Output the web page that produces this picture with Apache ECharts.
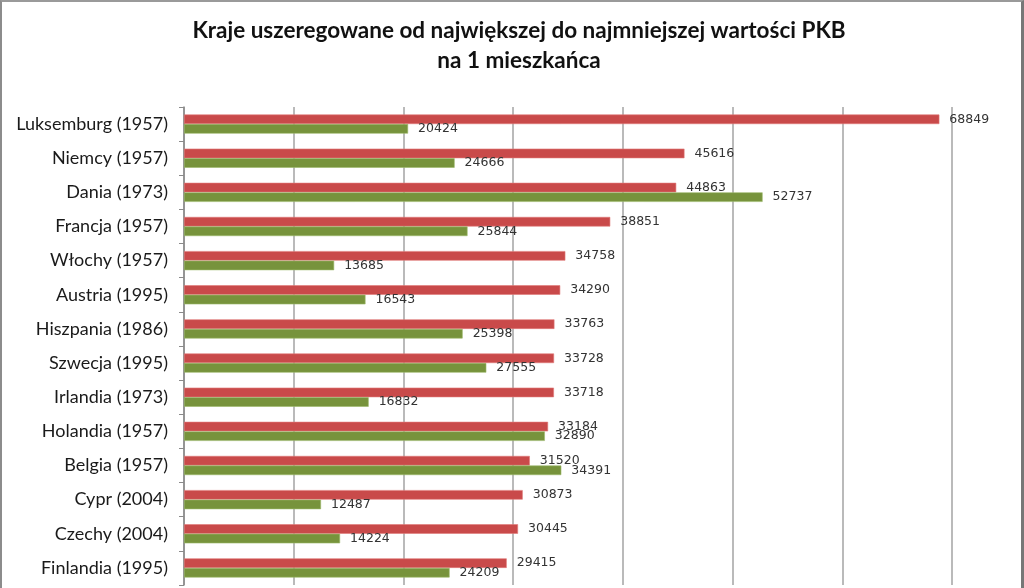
<!DOCTYPE html>
<html>
<head>
<meta charset="utf-8">
<script src="https://cdn.jsdelivr.net/npm/echarts@6/dist/echarts.min.js"></script>
<style>
html,body{margin:0;padding:0;background:#fff;}
#frame{position:absolute;left:0;top:0;width:1024px;height:588px;box-sizing:border-box;border-left:2px solid #8c8c8c;border-top:2px solid #9a9a9a;border-right:3px solid #777;background:#fff;}
#chart{position:absolute;left:0;top:0;width:1024px;height:588px;}
</style>
</head>
<body>
<div id="frame"></div>
<div id="chart"></div>
<script>
const categories = ['Luksemburg (1957)','Niemcy (1957)','Dania (1973)','Francja (1957)','Włochy (1957)','Austria (1995)','Hiszpania (1986)','Szwecja (1995)','Irlandia (1973)','Holandia (1957)','Belgia (1957)','Cypr (2004)','Czechy (2004)','Finlandia (1995)'];
const redValues = [68849,45616,44863,38851,34758,34290,33763,33728,33718,33184,31520,30873,30445,29415];
const greenValues = [20424,24666,52737,25844,13685,16543,25398,27555,16832,32890,34391,12487,14224,24209];
const titleText = 'Kraje uszeregowane od największej do najmniejszej wartości PKB\nna 1 mieszkańca';

const chart = echarts.init(document.getElementById('chart'), null, {renderer:'canvas'});
const labelStyle = {show:true, position:'right', distance:10, color:'#333', fontFamily:'DejaVu Sans', fontSize:12.5};
chart.setOption({
  backgroundColor:'transparent',
  animation:false,
  title:{
    text:titleText, left:514, textAlign:'center', top:11,
    textStyle:{fontFamily:'Lato', fontWeight:'bold', fontSize:22.5, color:'#111', lineHeight:30}
  },
  grid:{left:184, right:72, top:107, bottom:3, containLabel:false},
  xAxis:{
    type:'value', min:0, max:70000, interval:10000,
    axisLabel:{show:false}, axisTick:{show:false}, axisLine:{show:false},
    splitLine:{show:true, lineStyle:{color:'#a3a3a3', width:1.5}}
  },
  yAxis:{
    type:'category', data:categories, inverse:true,
    axisLine:{show:true, lineStyle:{color:'#8a8a8a', width:1.5}},
    axisTick:{show:true, length:5, inside:false, lineStyle:{color:'#8a8a8a'}},
    axisLabel:{fontFamily:'Lato', fontSize:18, color:'#1a1a1a', margin:16}
  },
  series:[
    {type:'bar', data:redValues, barGap:'0%', barCategoryGap:'44%',
     itemStyle:{color:'#c94a4a', borderColor:'#e07a78', borderWidth:0.6},
     label:labelStyle},
    {type:'bar', data:greenValues, barGap:'0%', barCategoryGap:'44%',
     itemStyle:{color:'#77933c', borderColor:'#9cb86a', borderWidth:0.6},
     label:labelStyle}
  ]
});
</script>
</body>
</html>
